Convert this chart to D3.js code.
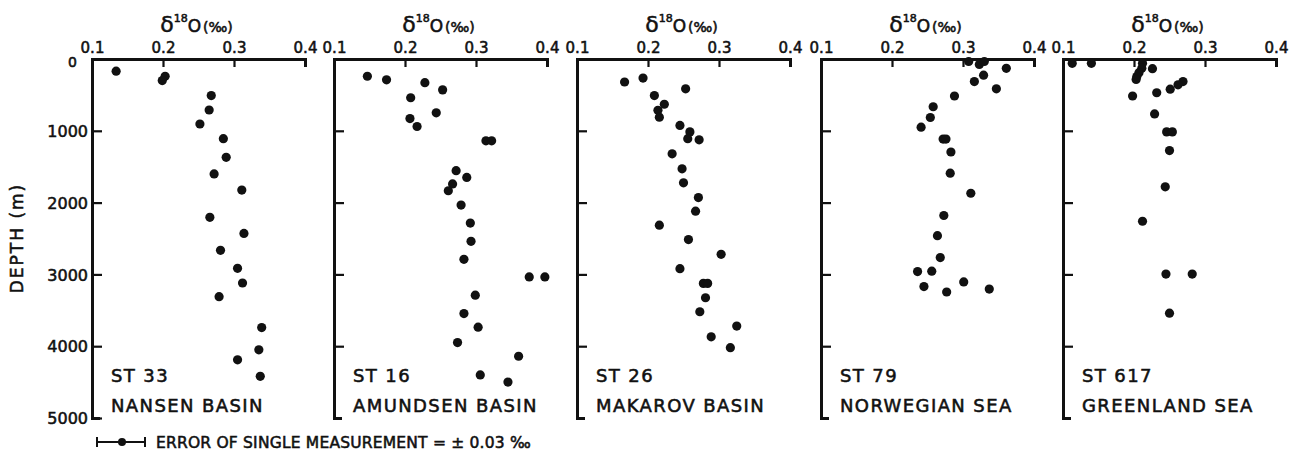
<!DOCTYPE html>
<html>
<head>
<meta charset="utf-8">
<script src="https://cdn.jsdelivr.net/npm/d3@7"></script>
<style>
  body { margin: 0; background: #fff; }
  text { font-family: "DejaVu Sans", sans-serif; fill: #111; stroke: #111; stroke-width: 0.55px; }
</style>
</head>
<body>
<svg id="chart" width="1292" height="452"></svg>
<script>
// station data: depth (m) and delta 18O (per mil)
var st33Depth = [170, 240, 300, 510, 710, 905, 1110, 1370, 1600, 1825, 2205, 2430, 2665, 2915, 3120, 3310, 3740, 4050, 4190, 4420];
var st33D18O  = [0.134, 0.203, 0.199, 0.268, 0.265, 0.252, 0.285, 0.289, 0.272, 0.311, 0.266, 0.314, 0.281, 0.305, 0.312, 0.279, 0.339, 0.335, 0.305, 0.337];

var st16Depth = [240, 290, 330, 430, 540, 750, 830, 940, 1140, 1140, 1555, 1650, 1740, 1835, 2035, 2285, 2540, 2790, 3035, 3035, 3290, 3545, 3735, 3950, 4140, 4400, 4500];
var st16D18O  = [0.147, 0.174, 0.228, 0.253, 0.208, 0.244, 0.207, 0.217, 0.314, 0.322, 0.272, 0.287, 0.267, 0.261, 0.279, 0.292, 0.293, 0.283, 0.375, 0.397, 0.299, 0.283, 0.303, 0.274, 0.360, 0.306, 0.345];

var st26Depth = [265, 320, 415, 510, 630, 715, 810, 925, 1015, 1110, 1125, 1320, 1530, 1725, 1930, 2120, 2315, 2515, 2720, 2920, 3125, 3125, 3325, 3520, 3720, 3870, 4020];
var st26D18O  = [0.193, 0.167, 0.253, 0.209, 0.223, 0.214, 0.216, 0.245, 0.259, 0.256, 0.272, 0.234, 0.248, 0.250, 0.271, 0.267, 0.216, 0.257, 0.303, 0.245, 0.278, 0.284, 0.281, 0.273, 0.325, 0.289, 0.316];

var st79Depth = [35, 75, 35, 130, 225, 315, 415, 515, 665, 815, 950, 1115, 1115, 1295, 1590, 1870, 2180, 2460, 2765, 2960, 2955, 3170, 3245, 3105, 3205];
var st79D18O  = [0.308, 0.323, 0.330, 0.361, 0.329, 0.316, 0.347, 0.288, 0.258, 0.254, 0.241, 0.272, 0.276, 0.283, 0.282, 0.311, 0.273, 0.264, 0.268, 0.236, 0.256, 0.245, 0.277, 0.301, 0.337];

var st617Depth = [60, 60, 60, 135, 130, 190, 245, 285, 315, 360, 420, 470, 515, 765, 1015, 1015, 1275, 1780, 2260, 2995, 2995, 3540];
var st617D18O  = [0.113, 0.140, 0.212, 0.226, 0.211, 0.207, 0.204, 0.203, 0.269, 0.262, 0.251, 0.232, 0.198, 0.229, 0.246, 0.254, 0.250, 0.244, 0.212, 0.245, 0.282, 0.250];

var stationNames = ["ST 33", "ST 16", "ST 26", "ST 79", "ST 617"];
var regionNames  = ["NANSEN BASIN", "AMUNDSEN BASIN", "MAKAROV BASIN", "NORWEGIAN SEA", "GREENLAND SEA"];
var xTicks = [0.1, 0.2, 0.3, 0.4];
var depthTicks = [0, 1000, 2000, 3000, 4000, 5000];
var legendText = "ERROR OF SINGLE MEASUREMENT = \u00b1 0.03 \u2030";

var depths = [st33Depth, st16Depth, st26Depth, st79Depth, st617Depth];
var values = [st33D18O, st16D18O, st26D18O, st79D18O, st617D18O];

var svg = d3.select("#chart");
var panelLeft = [92, 334, 577, 821, 1063];
var top0 = 59, pw = 213, ph = 359;

var x = d3.scaleLinear().domain([0.1, 0.4]).range([0, pw]);
var y = d3.scaleLinear().domain([0, 5000]).range([0, ph]);

stationNames.forEach(function(name, i) {
    var g = svg.append("g")
        .attr("transform", "translate(" + panelLeft[i] + "," + top0 + ")");

    // top axis, ticks pointing down into the panel
    var xa = g.append("g")
        .call(d3.axisTop(x).tickValues(xTicks).tickFormat(d3.format(".1f"))
            .tickSizeInner(-8).tickSizeOuter(-8).tickPadding(6));
    // left axis, ticks pointing right
    var ya = g.append("g")
        .call(d3.axisLeft(y).tickValues(i == 0 ? depthTicks : depthTicks.slice(1, 5))
            .tickFormat(i == 0 ? d3.format("d") : "")
            .tickSizeInner(-10).tickSizeOuter(-8).tickPadding(4));

    [xa, ya].forEach(function(a) {
        a.select(".domain").attr("stroke", "#111").attr("stroke-width", 3).attr("fill", "none");
        a.selectAll(".tick line").attr("stroke", "#111").attr("stroke-width", 2.2);
        a.selectAll("text").style("font-family", "DejaVu Sans").attr("fill", "#111");
    });
    xa.selectAll("text").style("font-size", "15px").attr("dy", "0");
    ya.selectAll("text").style("font-size", "16px").attr("dy", "0.36em");
    if (i == 0) {
        ya.selectAll(".tick").filter(function(d) { return d == 0; })
            .select("text").style("font-size", "14px")
            .attr("dx", "-11").attr("dy", "0.55em");
    }

    // title: delta 18O (per mil)
    var t = g.append("text")
        .attr("x", pw / 2 - 2).attr("y", -27)
        .attr("text-anchor", "middle");
    t.append("tspan").text("\u03b4").style("font-size", "22px");
    t.append("tspan").text("18").style("font-size", "11px").attr("dy", "-10");
    t.append("tspan").text("O").style("font-size", "17px").attr("dy", "10");
    t.append("tspan").text("(\u2030)").style("font-size", "14px").attr("dx", "2");

    // measurements
    g.selectAll("circle.pt")
        .data(d3.range(depths[i].length))
        .enter()
        .append("circle")
        .attr("class", "pt")
        .attr("cx", function(k) { return x(values[i][k]); })
        .attr("cy", function(k) { return y(depths[i][k]); })
        .attr("r", 4.6)
        .attr("fill", "#111");

    g.append("text")
        .attr("x", 19).attr("y", 323)
        .style("font-size", "18px").style("letter-spacing", "1.4px")
        .text(name);
    g.append("text")
        .attr("x", 19).attr("y", 353)
        .style("font-size", "18px").style("letter-spacing", "1.4px")
        .text(regionNames[i]);
});

// depth title
svg.append("text")
    .attr("transform", "translate(23,238) rotate(-90)")
    .attr("text-anchor", "middle")
    .style("font-size", "17px").style("letter-spacing", "2px")
    .text("DEPTH (m)");

// error legend
var lg = svg.append("g").attr("transform", "translate(97,442)");
lg.append("line").attr("x1", 0).attr("x2", 48).attr("y1", 0).attr("y2", 0)
    .attr("stroke", "#111").attr("stroke-width", 2);
lg.append("line").attr("x1", 0).attr("x2", 0).attr("y1", -5).attr("y2", 5)
    .attr("stroke", "#111").attr("stroke-width", 2);
lg.append("line").attr("x1", 48).attr("x2", 48).attr("y1", -5).attr("y2", 5)
    .attr("stroke", "#111").attr("stroke-width", 2);
lg.append("circle").attr("cx", 25).attr("cy", 0).attr("r", 4).attr("fill", "#111");
lg.append("text").attr("x", 59).attr("y", 6)
    .style("font-size", "15.5px").style("letter-spacing", "0.2px")
    .text(legendText);
</script>
</body>
</html>
